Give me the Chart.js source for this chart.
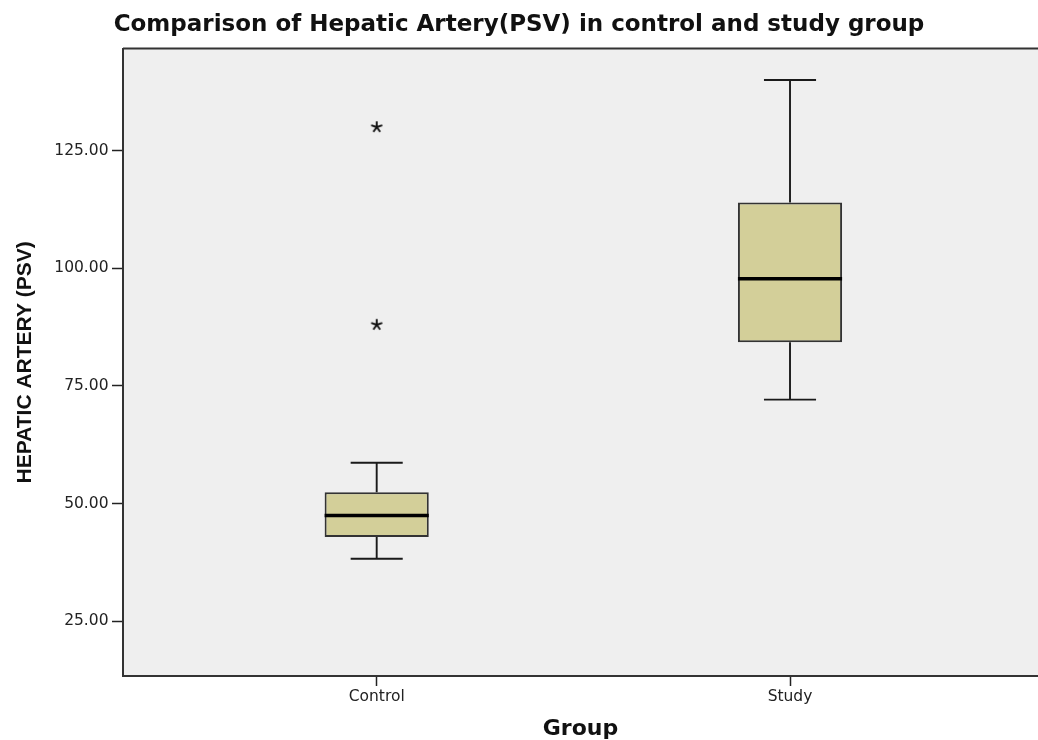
<!DOCTYPE html>
<html>
<head>
<meta charset="utf-8">
<script src="https://cdn.jsdelivr.net/npm/chart.js@4/dist/chart.umd.min.js"></script>
<style>
  html, body { margin: 0; padding: 0; background: #ffffff; overflow: hidden; }
  #wrap { width: 1038px; height: 740px; }
  canvas { display: block; }
</style>
</head>
<body>
<div id="wrap"><canvas id="c" width="1038" height="740"></canvas></div>
<script>
// ---- data ----
const categories = ['Control', 'Study'];
const whiskerLow  = [38.3, 72.1];
const quartile1   = [42.9, 84.3];
const medians     = [47.5, 97.8];
const quartile3   = [52.4, 114.0];
const whiskerHigh = [58.7, 140.0];
const outlierGroup  = [1, 1];          // category position (1 = Control)
const outlierValues = [130.0, 88.0];
const yTickValues = [25, 50, 75, 100, 125];

const titleText = 'Comparison of Hepatic Artery(PSV) in control and study group';
const yTitle = 'HEPATIC ARTERY (PSV)';
const xTitle = 'Group';

// asterisk point style (5 arms)
function makeAsterisk() {
  const c = document.createElement('canvas');
  c.width = 14; c.height = 14;
  const g = c.getContext('2d');
  g.strokeStyle = '#111';
  g.lineWidth = 1.9;
  g.lineCap = 'butt';
  for (let k = 0; k < 5; k++) {
    const a = -Math.PI / 2 + k * 2 * Math.PI / 5;
    g.beginPath();
    g.moveTo(7, 7);
    g.lineTo(7 + 5.8 * Math.cos(a), 7 + 5.8 * Math.sin(a));
    g.stroke();
  }
  return c;
}
const asterisk = makeAsterisk();

const boxData = categories.map((c, i) => ({ x: i + 1, y: [quartile1[i], quartile3[i]] }));
const outlierData = outlierValues.map((v, i) => ({ x: outlierGroup[i], y: v }));

const boxPlotPlugin = {
  id: 'boxExtras',
  beforeDraw(chart) {
    const { ctx, chartArea: a } = chart;
    ctx.save();
    ctx.fillStyle = '#efefef';
    ctx.fillRect(a.left, a.top, a.right - a.left, a.bottom - a.top);
    ctx.restore();
  },
  afterDatasetsDraw(chart) {
    const { ctx, scales } = chart;
    const xs = scales.x, ys = scales.y;
    const meta = chart.getDatasetMeta(0);
    ctx.save();
    ctx.lineCap = 'butt';
    categories.forEach((c, i) => {
      const cx = xs.getPixelForValue(i + 1);
      const bw = meta.data[i].width;
      const capHalf = bw / 4;
      const yLo = ys.getPixelForValue(whiskerLow[i]);
      const yQ1 = ys.getPixelForValue(quartile1[i]);
      const yQ3 = ys.getPixelForValue(quartile3[i]);
      const yHi = ys.getPixelForValue(whiskerHigh[i]);
      const yMed = ys.getPixelForValue(medians[i]);
      ctx.strokeStyle = '#1a1a1a';
      ctx.lineWidth = 1.9;
      ctx.beginPath();
      ctx.moveTo(cx, yQ3); ctx.lineTo(cx, yHi);
      ctx.moveTo(cx - capHalf, yHi); ctx.lineTo(cx + capHalf, yHi);
      ctx.moveTo(cx, yQ1); ctx.lineTo(cx, yLo);
      ctx.moveTo(cx - capHalf, yLo); ctx.lineTo(cx + capHalf, yLo);
      ctx.stroke();
      ctx.lineWidth = 3.5;
      ctx.strokeStyle = '#000';
      ctx.beginPath();
      ctx.moveTo(cx - bw / 2, yMed); ctx.lineTo(cx + bw / 2, yMed);
      ctx.stroke();
    });
    ctx.restore();
  },
  afterDraw(chart) {
    const { ctx, chartArea: a } = chart;
    ctx.save();
    ctx.strokeStyle = '#333';
    ctx.lineWidth = 2;
    ctx.beginPath();
    ctx.moveTo(a.left, a.top);
    ctx.lineTo(a.right, a.top);
    ctx.stroke();
    ctx.restore();
  }
};

Chart.defaults.font.family = "'DejaVu Sans', sans-serif";
Chart.defaults.color = '#222';

new Chart(document.getElementById('c'), {
  type: 'bar',
  data: {
    datasets: [
      {
        type: 'bar',
        data: boxData,
        backgroundColor: '#d3cf99',
        borderColor: '#333333',
        borderWidth: 2,
        borderSkipped: false,
        barPercentage: 0.252,
        categoryPercentage: 1.0,
        order: 2
      },
      {
        type: 'scatter',
        data: outlierData,
        pointStyle: asterisk,
        pointRadius: 6,
        order: 1
      }
    ]
  },
  options: {
    responsive: false,
    animation: false,
    layout: { autoPadding: false, padding: { left: 0, right: 0, top: 0, bottom: 0 } },
    plugins: {
      legend: { display: false },
      tooltip: { enabled: false },
      title: {
        display: true,
        text: titleText,
        color: '#111',
        font: { family: "'DejaVu Sans', sans-serif", size: 23, weight: 'bold', lineHeight: 1.2 },
        padding: { top: 11, bottom: 10 }
      }
    },
    scales: {
      x: {
        type: 'linear',
        offset: false,
        min: 0.3862,
        max: 2.6,
        afterBuildTicks(scale) { scale.ticks = categories.map((c, i) => ({ value: i + 1 })); },
        afterFit(scale) { scale.height = 64; scale.paddingLeft = 0; scale.paddingRight = 0; },
        ticks: {
          autoSkip: false,
          maxRotation: 0,
          padding: 2,
          color: '#222',
          font: { size: 15.5 },
          callback: (v) => categories[Math.round(v) - 1]
        },
        grid: { display: true, offset: false, drawOnChartArea: false, drawTicks: true, tickLength: 10, tickColor: '#222', tickWidth: 1.5 },
        border: { display: true, color: '#333', width: 2 },
        title: {
          display: true,
          text: xTitle,
          color: '#111',
          font: { size: 22, weight: 'bold', lineHeight: 1 },
          padding: { top: 0, bottom: 0 }
        }
      },
      y: {
        type: 'linear',
        min: 13.38,
        max: 146.67,
        afterBuildTicks(scale) { scale.ticks = yTickValues.map(v => ({ value: v })); },
        afterFit(scale) { scale.width = 123; scale.paddingTop = 0; scale.paddingBottom = 0; },
        ticks: {
          padding: 3.5,
          color: '#222',
          font: { size: 15.5 },
          callback: (v) => Number(v).toFixed(2)
        },
        grid: { display: true, drawOnChartArea: false, drawTicks: true, tickLength: 11, tickColor: '#222', tickWidth: 1.5 },
        border: { display: true, color: '#333', width: 2 },
        title: {
          display: true,
          text: yTitle,
          color: '#111',
          font: { family: "'Liberation Sans', Arial, sans-serif", size: 21, weight: 'bold', lineHeight: 1.2 },
          padding: { top: 12.4, bottom: 0 }
        }
      }
    }
  },
  plugins: [boxPlotPlugin]
});
</script>
</body>
</html>
